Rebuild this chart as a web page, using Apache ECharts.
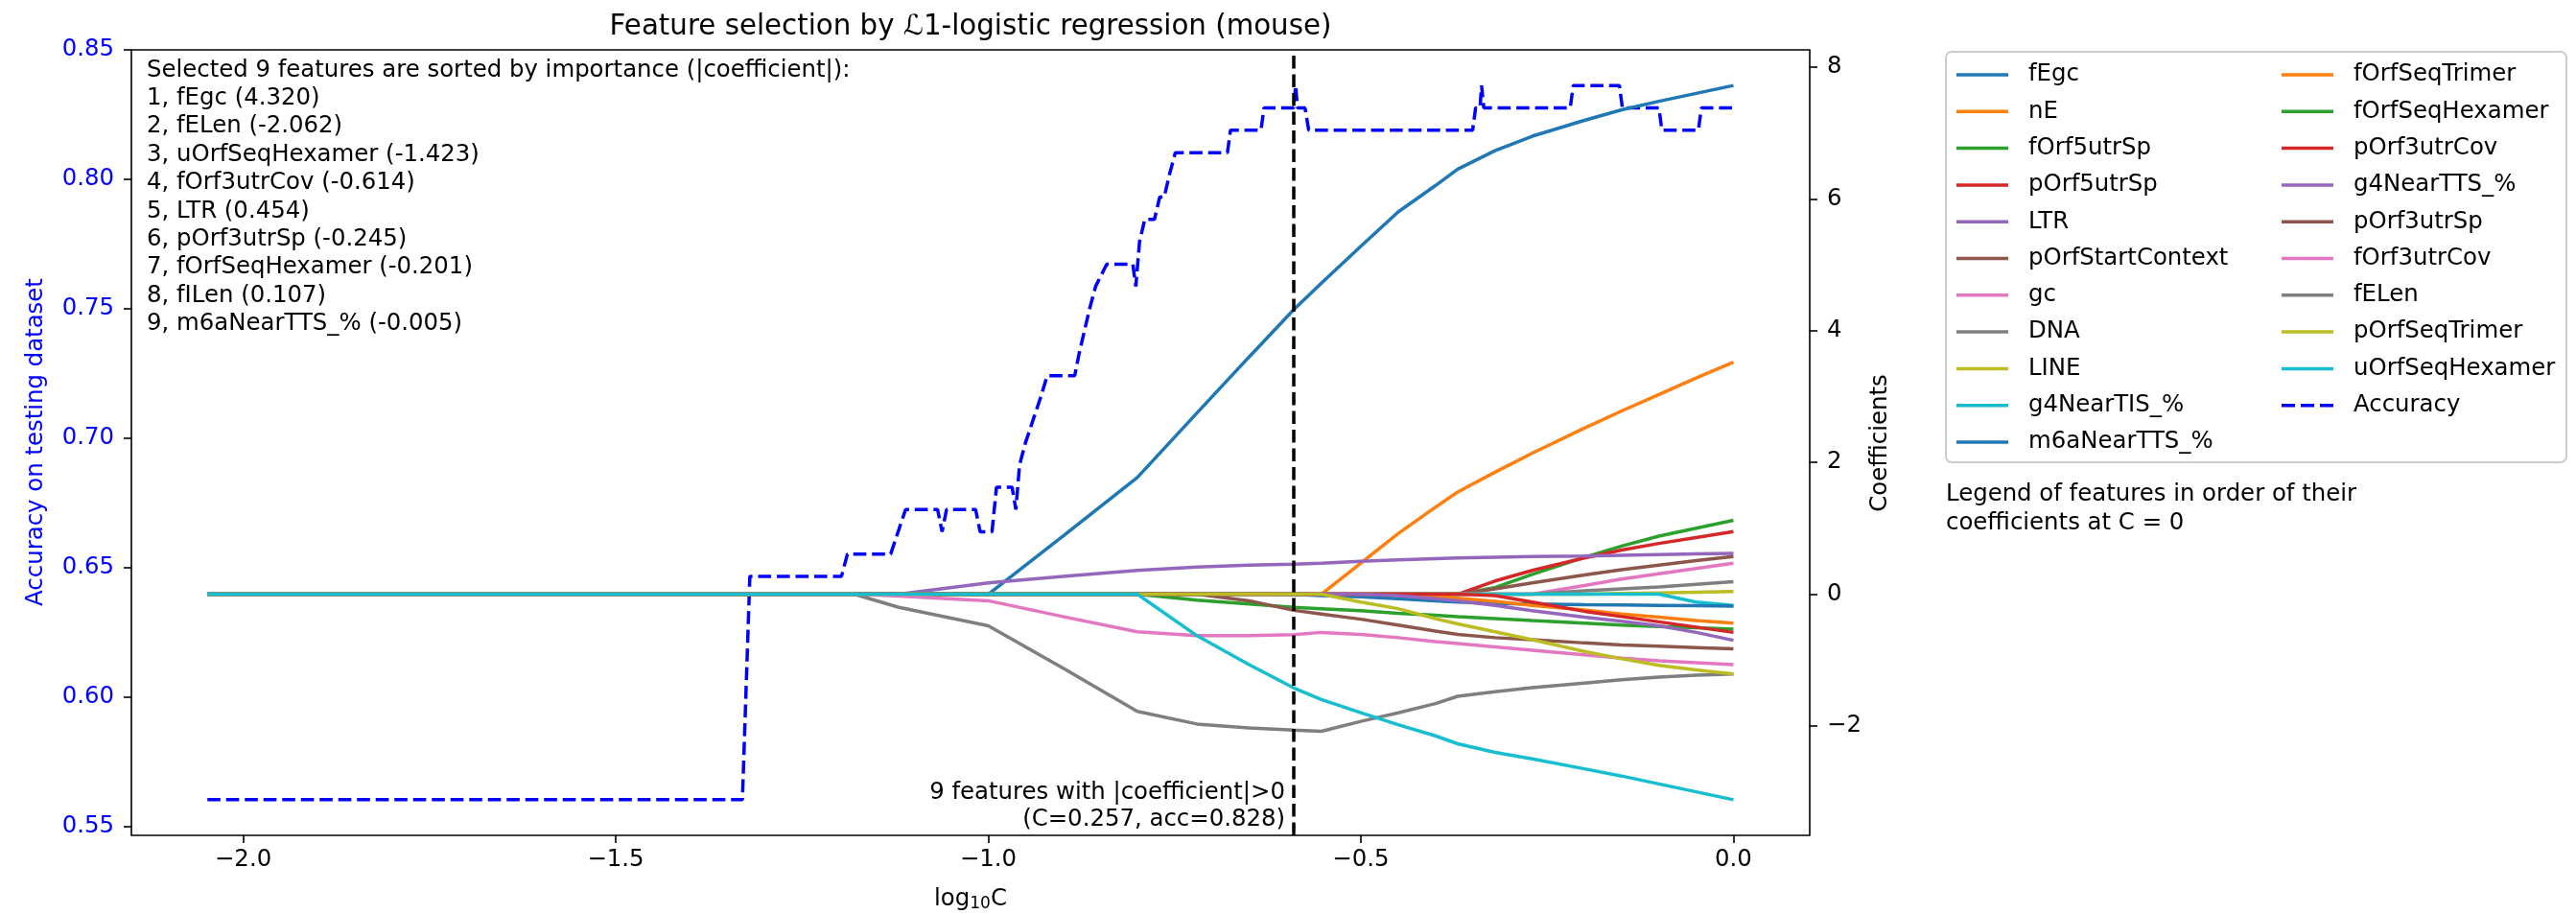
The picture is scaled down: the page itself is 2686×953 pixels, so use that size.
<!DOCTYPE html>
<html>
<head>
<meta charset="utf-8">
<script src="https://cdn.jsdelivr.net/npm/echarts@6/dist/echarts.min.js"></script>
<style>
  html, body { margin: 0; padding: 0; background: #fff; }
  #chart { width: 2686px; height: 953px; }
</style>
</head>
<body>
<div id="chart"></div>
<script>
// ---- regularisation path: log10(C) grid shared by all coefficient curves ----
const LOG_C = [-2.048, -1.18, -1.12, -1.0, -0.9, -0.8, -0.72, -0.65, -0.59, -0.553, -0.5,
               -0.45, -0.4, -0.37, -0.32, -0.27, -0.2, -0.15, -0.1, -0.05, 0];

// coefficient of each feature along LOG_C
const C_fEgc            = [0, 0, 0, 0, 0.88, 1.77, 2.75, 3.6, 4.32, 4.72, 5.28, 5.8, 6.2, 6.45, 6.73, 6.95, 7.19, 7.35, 7.48, 7.6, 7.72];
const C_nE              = [0, 0, 0, 0, 0, 0, 0, 0, 0, 0, 0.47, 0.92, 1.32, 1.55, 1.85, 2.14, 2.52, 2.78, 3.03, 3.28, 3.52];
const C_fOrf5utrSp      = [0, 0, 0, 0, 0, 0, 0, 0, 0, 0, 0, 0, 0, 0, 0.1, 0.3, 0.56, 0.73, 0.88, 1.0, 1.12];
const C_pOrf5utrSp      = [0, 0, 0, 0, 0, 0, 0, 0, 0, 0, 0, 0, 0, 0, 0.2, 0.36, 0.55, 0.67, 0.77, 0.86, 0.95];
const C_LTR             = [0, 0, 0, 0.17, 0.27, 0.36, 0.41, 0.44, 0.454, 0.47, 0.5, 0.52, 0.54, 0.55, 0.56, 0.57, 0.58, 0.59, 0.6, 0.61, 0.62];
const C_pOrfStartContext= [0, 0, 0, 0, 0, 0, 0, 0, 0, 0, 0, 0, 0, 0, 0.08, 0.17, 0.29, 0.37, 0.44, 0.51, 0.57];
const C_gc              = [0, 0, 0, 0, 0, 0, 0, 0, 0, 0, 0, 0, 0, 0, 0, 0, 0.13, 0.23, 0.31, 0.39, 0.47];
const C_DNA             = [0, 0, 0, 0, 0, 0, 0, 0, 0, 0, 0, 0, 0, 0, 0, 0, 0.05, 0.08, 0.11, 0.15, 0.19];
const C_LINE            = [0, 0, 0, 0, 0, 0, 0, 0, 0, 0, 0, 0, 0, 0, 0, 0, 0, 0.01, 0.02, 0.03, 0.04];
const C_g4NearTIS       = [0, 0, 0, 0, 0, 0, 0, 0, 0, 0, 0, 0, 0, 0, 0, 0, 0, 0, 0, -0.12, -0.17];
const C_m6aNearTTS      = [0, 0, 0, 0, 0, 0, 0, 0, -0.005, -0.02, -0.04, -0.07, -0.1, -0.12, -0.14, -0.15, -0.16, -0.165, -0.17, -0.175, -0.18];
const C_fOrfSeqTrimer   = [0, 0, 0, 0, 0, 0, 0, 0, 0, 0, 0, 0, -0.03, -0.06, -0.11, -0.17, -0.24, -0.3, -0.35, -0.4, -0.44];
const C_fOrfSeqHexamer  = [0, 0, 0, 0, 0, 0, -0.09, -0.15, -0.201, -0.22, -0.25, -0.29, -0.32, -0.34, -0.37, -0.4, -0.44, -0.47, -0.49, -0.51, -0.53];
const C_pOrf3utrCov     = [0, 0, 0, 0, 0, 0, 0, 0, 0, 0, 0, 0, 0, 0, -0.02, -0.12, -0.26, -0.34, -0.42, -0.5, -0.58];
const C_g4NearTTS       = [0, 0, 0, 0, 0, 0, 0, 0, 0, 0, 0, -0.02, -0.07, -0.1, -0.17, -0.25, -0.35, -0.41, -0.48, -0.58, -0.7];
const C_pOrf3utrSp      = [0, 0, 0, 0, 0, 0, 0, -0.1, -0.245, -0.3, -0.38, -0.47, -0.56, -0.61, -0.66, -0.69, -0.74, -0.77, -0.79, -0.81, -0.83];
const C_fOrf3utrCov     = [0, 0, -0.03, -0.1, -0.34, -0.57, -0.63, -0.63, -0.614, -0.58, -0.61, -0.66, -0.72, -0.75, -0.8, -0.85, -0.92, -0.97, -1.01, -1.04, -1.07];
const C_fELen           = [0, 0, -0.2, -0.48, -1.12, -1.78, -1.97, -2.03, -2.062, -2.08, -1.93, -1.8, -1.66, -1.55, -1.48, -1.42, -1.35, -1.3, -1.26, -1.23, -1.21];
const C_pOrfSeqTrimer   = [0, 0, 0, 0, 0, 0, 0, 0, 0, 0, -0.12, -0.22, -0.37, -0.45, -0.57, -0.69, -0.87, -0.98, -1.08, -1.15, -1.21];
const C_uOrfSeqHexamer  = [0, 0, 0, 0, 0, 0, -0.63, -1.07, -1.423, -1.6, -1.8, -1.98, -2.15, -2.27, -2.4, -2.5, -2.65, -2.76, -2.88, -3.0, -3.12];

// features, ordered by their coefficient at the end of the path
const FEATURES = [
  ['fEgc', C_fEgc], ['nE', C_nE], ['fOrf5utrSp', C_fOrf5utrSp], ['pOrf5utrSp', C_pOrf5utrSp],
  ['LTR', C_LTR], ['pOrfStartContext', C_pOrfStartContext], ['gc', C_gc], ['DNA', C_DNA],
  ['LINE', C_LINE], ['g4NearTIS_%', C_g4NearTIS], ['m6aNearTTS_%', C_m6aNearTTS],
  ['fOrfSeqTrimer', C_fOrfSeqTrimer], ['fOrfSeqHexamer', C_fOrfSeqHexamer], ['pOrf3utrCov', C_pOrf3utrCov],
  ['g4NearTTS_%', C_g4NearTTS], ['pOrf3utrSp', C_pOrf3utrSp], ['fOrf3utrCov', C_fOrf3utrCov],
  ['fELen', C_fELen], ['pOrfSeqTrimer', C_pOrfSeqTrimer], ['uOrfSeqHexamer', C_uOrfSeqHexamer]
];
const PALETTE = ['#1f77b4', '#ff7f0e', '#2ca02c', '#d62728', '#9467bd',
                 '#8c564b', '#e377c2', '#7f7f7f', '#bcbd22', '#17becf'];

// accuracy on the testing set along a finer log10(C) grid
const ACC_LOG_C = [-2.048, -1.330, -1.320, -1.197, -1.189, -1.131, -1.121, -1.111, -1.068, -1.062,
                   -1.056, -1.017, -1.011, -0.995, -0.989, -0.968, -0.963, -0.958, -0.950, -0.940,
                   -0.930, -0.921, -0.884, -0.878, -0.871, -0.864, -0.856, -0.841, -0.806, -0.802,
                   -0.797, -0.790, -0.777, -0.770, -0.764, -0.757, -0.749, -0.679, -0.675, -0.634,
                   -0.630, -0.5901, -0.5875, -0.585, -0.575, -0.570, -0.350, -0.346, -0.340, -0.338,
                   -0.335, -0.219, -0.215, -0.153, -0.149, -0.100, -0.096, -0.047, -0.043, 0];
const ACC = [0.5603, 0.5603, 0.6466, 0.6466, 0.6552, 0.6552, 0.6638, 0.6724, 0.6724, 0.6638,
             0.6724, 0.6724, 0.6638, 0.6638, 0.6810, 0.6810, 0.6724, 0.6897, 0.6983, 0.7069,
             0.7155, 0.7241, 0.7241, 0.7328, 0.7414, 0.7500, 0.7586, 0.7672, 0.7672, 0.7586,
             0.7759, 0.7845, 0.7845, 0.7931, 0.7931, 0.8017, 0.8103, 0.8103, 0.8190, 0.8190,
             0.8276, 0.8276, 0.8362, 0.8276, 0.8276, 0.8190, 0.8190, 0.8276, 0.8276, 0.8362,
             0.8276, 0.8276, 0.8362, 0.8362, 0.8276, 0.8276, 0.8190, 0.8190, 0.8276, 0.8276];

// chosen model
const SEL_C = 0.257;
const SEL_LOG_C = Math.log10(SEL_C);
const SEL_ACC = 0.828;
const SELECTED = [
  ['fEgc', 4.320], ['fELen', -2.062], ['uOrfSeqHexamer', -1.423], ['fOrf3utrCov', -0.614],
  ['LTR', 0.454], ['pOrf3utrSp', -0.245], ['fOrfSeqHexamer', -0.201], ['fILen', 0.107],
  ['m6aNearTTS_%', -0.005]
];

// axis ticks
const X_TICKS = [-2.0, -1.5, -1.0, -0.5, 0.0];
const ACC_TICKS = [0.55, 0.60, 0.65, 0.70, 0.75, 0.80, 0.85];
const COEF_TICKS = [-2, 0, 2, 4, 6, 8];

const FONT = 'DejaVu Sans';
const FS = 24.4;
const LW = 3.5;
const DASH = [13.6, 5.9];
const minus = s => s.replace('-', '\u2212');

// legend handles: a solid bar for curves, three dashes for the accuracy line
const SOLID_ICON = 'rect';
const DASHED_ICON = 'path://M0,0h14v3.5h-14z M20,0h14v3.5h-14z M40,0h14v3.5h-14z';

const chart = echarts.init(document.getElementById('chart'), null, { renderer: 'canvas' });

const coefSeries = FEATURES.map(([name, vals], i) => ({
  type: 'line',
  name: name,
  yAxisIndex: 1,
  data: LOG_C.map((x, k) => [x, vals[k]]),
  symbol: 'none',
  color: PALETTE[i % 10],
  lineStyle: { color: PALETTE[i % 10], width: LW },
  z: 3,
  silent: true
}));

const accSeries = {
  type: 'line',
  name: 'Accuracy',
  yAxisIndex: 0,
  data: ACC_LOG_C.map((x, k) => [x, ACC[k]]),
  symbol: 'none',
  color: '#0000ff',
  lineStyle: { color: '#0000ff', width: LW, type: DASH },
  z: 2,
  silent: true
};

const selSeries = {
  type: 'line',
  name: 'selection',
  yAxisIndex: 0,
  data: [[SEL_LOG_C, SEL_ACC]],
  symbol: 'none',
  z: 5,
  silent: true,
  markLine: {
    silent: true,
    symbol: ['none', 'none'],
    label: { show: false },
    lineStyle: { color: '#000', width: LW, type: DASH },
    data: [{ xAxis: SEL_LOG_C }]
  }
};

const tickStyle = { show: true, length: 8, lineStyle: { color: '#000', width: 1.6 } };
const legendText = { fontFamily: FONT, fontSize: FS, color: '#000', padding: [0, 0, 0, 16], lineHeight: 24 };
const names = FEATURES.map(f => f[0]);
const legendItems = list => list.map(n => ({ name: n, icon: n === 'Accuracy' ? DASHED_ICON : SOLID_ICON }));
const legendBase = { orient: 'vertical', top: 61, itemWidth: 54, itemHeight: 3.5, itemGap: 14.3,
                     selectedMode: false, textStyle: legendText };

chart.setOption({
  animation: false,
  backgroundColor: '#fff',
  textStyle: { fontFamily: FONT },
  grid: { left: 137, right: 799, top: 52, bottom: 82, show: true, borderColor: '#000', borderWidth: 1.6, backgroundColor: 'transparent' },
  xAxis: {
    type: 'value', min: -2.15, max: 0.1024, position: 'bottom',
    axisLine: { show: false, onZero: false },
    splitLine: { show: false },
    axisTick: Object.assign({ customValues: X_TICKS }, tickStyle),
    axisLabel: { customValues: X_TICKS, fontSize: FS, color: '#000', margin: 14,
                 formatter: v => minus(v.toFixed(1)) }
  },
  yAxis: [
    {
      type: 'value', min: 0.5465, max: 0.85, position: 'left',
      axisLine: { show: false, onZero: false }, splitLine: { show: false },
      axisTick: Object.assign({ customValues: ACC_TICKS }, tickStyle),
      axisLabel: { customValues: ACC_TICKS, fontSize: FS, color: '#0000ff', margin: 18,
                   formatter: v => v.toFixed(2) }
    },
    {
      type: 'value', min: -3.66, max: 8.26, position: 'right',
      axisLine: { show: false, onZero: false }, splitLine: { show: false },
      axisTick: Object.assign({ customValues: COEF_TICKS }, tickStyle),
      axisLabel: { customValues: COEF_TICKS, fontSize: FS, color: '#000', margin: 18,
                   formatter: v => minus(String(Math.round(v))) }
    }
  ],
  legend: [
    Object.assign({ data: legendItems(names.slice(0, 11)), left: 2035 }, legendBase),
    Object.assign({ data: legendItems(names.slice(11).concat(['Accuracy'])), left: 2374 }, legendBase)
  ],
  series: [accSeries].concat(coefSeries, [selSeries])
});

// annotation anchored to the chosen C
const selX = chart.convertToPixel({ xAxisIndex: 0 }, SEL_LOG_C);
const plotBottom = chart.convertToPixel({ yAxisIndex: 0 }, 0.5465);

const selectedText = ['Selected ' + SELECTED.length + ' features are sorted by importance (|coefficient|):']
  .concat(SELECTED.map(([n, c], i) => (i + 1) + ', ' + n + ' (' + c.toFixed(3) + ')'))
  .join('\n');

chart.setOption({
  graphic: [
    { type: 'text', x: 1012, y: 28, silent: true,
      style: { text: 'Feature selection by \u21121-logistic regression (mouse)', font: '29.3px "DejaVu Sans"',
               fill: '#000', textAlign: 'center', textVerticalAlign: 'middle' } },
    { type: 'text', x: 153, y: 58.5, silent: true,
      style: { text: selectedText, font: FS + 'px "DejaVu Sans"', fill: '#000', lineHeight: 29.4,
               textAlign: 'left', textVerticalAlign: 'top' } },
    { type: 'text', x: selX - 9, y: plotBottom - 3, silent: true,
      style: { text: SELECTED.length + ' features with |coefficient|>0\n(C=' + SEL_C.toFixed(3) + ', acc=' + SEL_ACC.toFixed(3) + ')',
               font: FS + 'px "DejaVu Sans"', fill: '#000', lineHeight: 27.5,
               textAlign: 'right', textVerticalAlign: 'bottom' } },
    { type: 'text', x: 38, y: 461, rotation: Math.PI / 2, silent: true,
      style: { text: 'Accuracy on testing dataset', font: FS + 'px "DejaVu Sans"', fill: '#0000ff',
               textAlign: 'center', textVerticalAlign: 'middle' } },
    { type: 'text', x: 1961, y: 462, rotation: Math.PI / 2, silent: true,
      style: { text: 'Coefficients', font: FS + 'px "DejaVu Sans"', fill: '#000',
               textAlign: 'center', textVerticalAlign: 'middle' } },
    { type: 'text', x: 1012, y: 938, silent: true,
      style: { text: '{a|log}{b|10}{a|C}', textAlign: 'center', textVerticalAlign: 'middle',
               rich: { a: { font: FS + 'px "DejaVu Sans"', fill: '#000' },
                       b: { font: '17px "DejaVu Sans"', fill: '#000', verticalAlign: 'bottom', padding: [10, 0, 0, 0] } } } },
    { type: 'rect', z: -1, silent: true,
      shape: { x: 2029, y: 54, width: 647, height: 428, r: 6 },
      style: { fill: '#fff', stroke: '#cccccc', lineWidth: 2 } },
    { type: 'text', x: 2029, y: 501, silent: true,
      style: { text: 'Legend of features in order of their\ncoefficients at C = 0', font: FS + 'px "DejaVu Sans"',
               fill: '#000', lineHeight: 30, textAlign: 'left', textVerticalAlign: 'top' } }
  ]
});
</script>
</body>
</html>
